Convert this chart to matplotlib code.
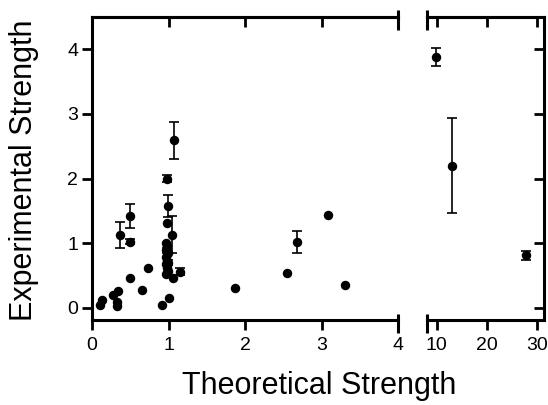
import matplotlib
matplotlib.use('Agg')
import matplotlib.pyplot as plt

plt.rcParams['font.family'] = ['Liberation Sans', 'DejaVu Sans']

##########
#  Data  #
##########

# plain points, left panel (theoretical 0-4)
x_pts = [0.10, 0.13, 0.27, 0.34, 0.33, 0.33, 0.50, 0.66, 0.73, 0.91, 1.00,
         1.06, 1.87, 2.55, 3.09, 3.31, 0.98,
         0.97, 0.98, 0.97, 0.99, 0.97, 0.98, 0.97, 0.98, 0.99, 0.97]
y_pts = [0.04, 0.12, 0.19, 0.26, 0.09, 0.02, 0.46, 0.27, 0.61, 0.04, 0.15,
         0.46, 0.30, 0.54, 1.43, 0.35, 1.31,
         1.00, 0.95, 0.90, 0.84, 0.78, 0.72, 0.67, 0.62, 0.57, 0.52]

# points with error bars, left panel
x_err = [0.365, 0.50, 0.50, 0.975, 0.99, 1.07, 1.05, 1.15, 2.68, 0.98, 0.99]
y_err = [1.13, 1.42, 1.02, 2.00, 1.57, 2.59, 1.13, 0.56, 1.01, 0.88, 0.70]
e_err = [0.20, 0.19, 0.04, 0.05, 0.17, 0.29, 0.29, 0.06, 0.17, 0.04, 0.04]

# right panel (theoretical 10-30)
x_big = [9.8, 13.1, 27.8]
y_big = [3.88, 2.20, 0.81]
e_big = [0.14, 0.74, 0.07]

x1_ticks = [0, 1, 2, 3, 4]
x2_ticks = [10, 20, 30]
y_ticks = [0, 1, 2, 3, 4]

############
#  Figure  #
############

fig = plt.figure(figsize=(5.48, 4.05), dpi=100)
ax1 = fig.add_axes([92/548, 85/405, 306/548, 303/405])
ax2 = fig.add_axes([427/548, 85/405, 117/548, 303/405])

lw = 2.2
tl = 7
tw = 2

for ax in (ax1, ax2):
    ax.set_ylim(-0.19, 4.5)
    ax.set_yticks(y_ticks)
    for s in ax.spines.values():
        s.set_linewidth(lw)

ax1.set_xlim(0, 4)
ax2.set_xlim(8.1, 31.4)

ax1.plot(x_pts, y_pts, 'o', color='black', ms=5.8, clip_on=False)
ax1.errorbar(x_err, y_err, yerr=e_err, fmt='o', color='black', ms=5.8,
             elinewidth=1.2, capsize=3.5, capthick=1.2)
ax2.errorbar(x_big, y_big, yerr=e_big, fmt='o', color='black', ms=5.8,
             elinewidth=1.2, capsize=3.5, capthick=1.2)

# left panel axes
ax1.spines['right'].set_visible(False)
ax1.set_xticks(x1_ticks)
ax1.tick_params(axis='both', direction='out', length=tl, width=tw,
                labelsize=14, pad=3)
ax1.tick_params(axis='x', pad=5)
top1 = ax1.secondary_xaxis('top')
top1.set_xticks([1, 2, 3])
top1.set_xticklabels([])
top1.tick_params(direction='in', length=tl, width=tw)
top1.spines['top'].set_linewidth(lw)

# right panel axes
ax2.spines['left'].set_visible(False)
ax2.set_xticks(x2_ticks)
ax2.yaxis.tick_right()
ax2.tick_params(axis='y', direction='in', length=tl, width=tw,
                labelright=False)
ax2.tick_params(axis='x', direction='out', length=tl, width=tw,
                labelsize=14, pad=5)
top2 = ax2.secondary_xaxis('top')
top2.set_xticks(x2_ticks)
top2.set_xticklabels([])
top2.tick_params(direction='in', length=tl, width=tw)
top2.spines['top'].set_linewidth(lw)

# break marks
for ax, xb in ((ax1, 1), (ax2, 0)):
    ax.plot([xb, xb], [-0.043, 0.02], transform=ax.transAxes,
            color='black', lw=lw, clip_on=False, solid_capstyle='butt')
    ax.plot([xb, xb], [0.957, 1.023], transform=ax.transAxes,
            color='black', lw=lw, clip_on=False, solid_capstyle='butt')

fig.text(319/548, 1 - 386/405, 'Theoretical Strength', fontsize=22,
         ha='center', va='center')
fig.text(24/548, 1 - 170/405, 'Experimental Strength', fontsize=22,
         rotation=90, ha='center', va='center')

fig.savefig('out.png', dpi=100)
